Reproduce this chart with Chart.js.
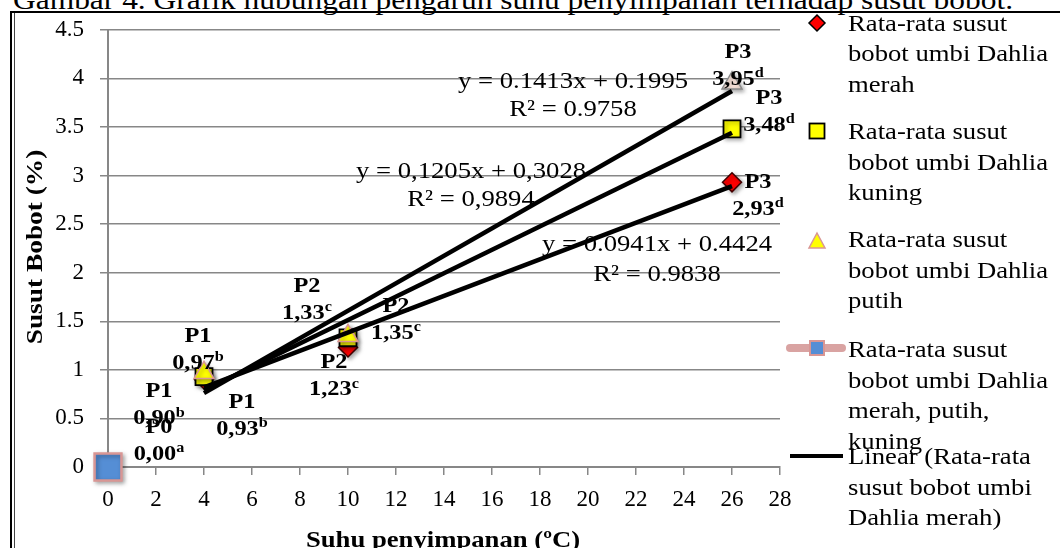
<!DOCTYPE html>
<html>
<head>
<meta charset="utf-8">
<script src="https://cdn.jsdelivr.net/npm/chart.js@4.4.1/dist/chart.umd.min.js"></script>
<style>
html,body{margin:0;padding:0;background:#fff;}
body{width:1060px;height:548px;overflow:hidden;position:relative;font-family:'Liberation Serif','Times New Roman',serif;color:#000;}
#wrap{position:absolute;left:0;top:0;width:1060px;height:548px;}
#title{position:absolute;left:13px;top:-14px;font-size:28px;line-height:28px;white-space:nowrap;transform-origin:0 0;}
.frame-top{position:absolute;left:10px;top:11px;width:1050px;height:0;border-top:2px solid #000;}
.frame-left{position:absolute;left:10px;top:11px;width:0;height:537px;border-left:2px solid #000;}
.frame-left2{position:absolute;left:14px;top:13px;width:0;height:535px;border-left:1px solid #444;}
.leg{position:absolute;left:848px;font-size:23px;line-height:30.5px;white-space:nowrap;transform:scaleX(1.16);transform-origin:0 0;}
.legm{position:absolute;overflow:visible;}
</style>
</head>
<body>
<div id="title">Gambar 4. Grafik hubungan pengaruh suhu penyimpanan terhadap susut bobot.</div>
<div class="frame-top"></div>
<div class="frame-left"></div>
<div class="frame-left2"></div>
<div id="wrap"><canvas id="c"></canvas></div>
<div id="legend"></div>
<script>
// ---------- data ----------
const suhu = [4, 10, 26];
const susutMerah = [0.90, 1.23, 2.93];
const susutKuning = [0.93, 1.33, 3.48];
const susutPutih = [0.97, 1.35, 3.95];
const suhuP0 = [0];
const susutP0 = [0.00];
const perlakuan = ['P1', 'P2', 'P3'];
const perlakuanP0 = ['P0'];
const notasiMerah = ['b', 'c', 'd'];
const notasiKuning = ['b', 'c', 'd'];
const notasiPutih = ['b', 'c', 'd'];
const notasiP0 = ['a'];
const trendX = [4, 26];
const trendMerah = [0.82, 2.89];
const trendKuning = [0.79, 3.44];
const trendPutih = [0.76, 3.87];
const persamaan = ['y = 0.1413x + 0.1995', 'y = 0,1205x + 0,3028', 'y = 0.0941x + 0.4424'];
const rKuadrat = ['R\u00b2 = 0.9758', 'R\u00b2 = 0,9894', 'R\u00b2 = 0.9838'];
const xTickValues = [0, 2, 4, 6, 8, 10, 12, 14, 16, 18, 20, 22, 24, 26, 28];
const yTickValues = [0, 0.5, 1, 1.5, 2, 2.5, 3, 3.5, 4, 4.5];
const legendNames = [
  'Rata-rata susut<br>bobot umbi Dahlia<br>merah',
  'Rata-rata susut<br>bobot umbi Dahlia<br>kuning',
  'Rata-rata susut<br>bobot umbi Dahlia<br>putih',
  'Rata-rata susut<br>bobot umbi Dahlia<br>merah, putih,<br>kuning',
  'Linear (Rata-rata<br>susut bobot umbi<br>Dahlia merah)'
];

// ---------- layout (pixels, not data) ----------
const labelOffsetMerah = [[-45, 26], [-14, 29], [26, 14]];
const labelOffsetKuning = [[38, 39], [-41, -38], [37, -17]];
const labelOffsetPutih = [[-6, -23], [48, -16], [6, -17]];
const labelOffsetP0 = [[51, -26]];
const eqPos = [[573, 82, 110], [471, 172, 200], [657, 245, 275]];
const FONT = "'Liberation Serif','Times New Roman',serif";
const SX = 1.16;

const pts = (xs, ys) => xs.map((x, i) => ({x: x, y: ys[i]}));

const datasets = [
  {label: 'trend putih', data: pts(trendX, trendPutih), showLine: true, borderColor: '#000', borderWidth: 4.5, pointRadius: 0, order: 0},
  {label: 'trend kuning', data: pts(trendX, trendKuning), showLine: true, borderColor: '#000', borderWidth: 4.5, pointRadius: 0, order: 0},
  {label: 'Linear (Rata-rata susut bobot umbi Dahlia merah)', data: pts(trendX, trendMerah), showLine: true, borderColor: '#000', borderWidth: 4.5, pointRadius: 0, order: 0},
  {label: 'Rata-rata susut bobot umbi Dahlia putih', data: pts(suhu, susutPutih), pointStyle: 'triangle', pointRadius: 11.5,
   backgroundColor: ['#ffff00', '#ffff00', '#f4dfd6'], borderColor: ['#d99694', '#d99694', '#8a8a8a'], borderWidth: 1.5, shadow: true, order: 1,
   lbl: {codes: perlakuan, notes: notasiPutih, off: labelOffsetPutih}},
  {label: 'Rata-rata susut bobot umbi Dahlia kuning', data: pts(suhu, susutKuning), pointStyle: 'rect', pointRadius: 12,
   backgroundColor: '#ffff00', borderColor: '#000', borderWidth: 1.8, shadow: true, order: 2,
   lbl: {codes: perlakuan, notes: notasiKuning, off: labelOffsetKuning}},
  {label: 'Rata-rata susut bobot umbi Dahlia merah', data: pts(suhu, susutMerah), pointStyle: 'rectRot', pointRadius: 9.5,
   backgroundColor: '#ff0000', borderColor: '#400000', borderWidth: 1.5, shadow: true, order: 3,
   lbl: {codes: perlakuan, notes: notasiMerah, off: labelOffsetMerah}},
  {label: 'Rata-rata susut bobot umbi Dahlia merah, putih, kuning', data: pts(suhuP0, susutP0), showLine: true, pointStyle: 'rect', pointRadius: 19,
   backgroundColor: '#558ed5', borderColor: '#d99694', pointBorderWidth: 2.5, borderWidth: 8, shadow: true, order: 4,
   lbl: {codes: perlakuanP0, notes: notasiP0, off: labelOffsetP0}}
];
datasets.forEach(d => { d.clip = false; });

function sText(ctx, text, x, y) {
  ctx.save();
  ctx.translate(x, y);
  ctx.scale(SX, 1);
  ctx.fillText(text, 0, 0);
  ctx.restore();
}

function drawLabel(ctx, cx, cy, code, val, sup) {
  ctx.fillStyle = '#000';
  ctx.textBaseline = 'middle';
  ctx.font = 'bold 21px ' + FONT;
  ctx.textAlign = 'center';
  sText(ctx, code, cx, cy - 13.5);
  ctx.textAlign = 'left';
  const w1 = ctx.measureText(val).width * SX;
  ctx.font = 'bold 14px ' + FONT;
  const w2 = ctx.measureText(sup).width * SX;
  const x0 = cx - (w1 + w2) / 2;
  ctx.font = 'bold 21px ' + FONT;
  sText(ctx, val, x0, cy + 13.5);
  ctx.font = 'bold 14px ' + FONT;
  sText(ctx, sup, x0 + w1, cy + 13.5 - 6);
}

const annot = {
  id: 'annot',
  beforeDatasetDraw(chart, args) {
    const ds = chart.data.datasets[args.index];
    if (ds.shadow) {
      const c = chart.ctx;
      c.shadowColor = 'rgba(0,0,0,0.35)'; c.shadowBlur = 4; c.shadowOffsetX = 2; c.shadowOffsetY = 2;
    }
  },
  afterDatasetDraw(chart) {
    const c = chart.ctx;
    c.shadowColor = 'rgba(0,0,0,0)'; c.shadowBlur = 0; c.shadowOffsetX = 0; c.shadowOffsetY = 0;
  },
  afterDraw(chart) {
    const ctx = chart.ctx;
    const xs = chart.scales.x, ys = chart.scales.y;
    ctx.save();
    chart.data.datasets.forEach(ds => {
      if (!ds.lbl) return;
      ds.data.forEach((p, i) => {
        const px = xs.getPixelForValue(p.x), py = ys.getPixelForValue(p.y);
        const o = ds.lbl.off[i];
        drawLabel(ctx, px + o[0], py + o[1], ds.lbl.codes[i], p.y.toFixed(2).replace('.', ','), ds.lbl.notes[i]);
      });
    });
    ctx.font = '23px ' + FONT;
    ctx.textAlign = 'center';
    ctx.textBaseline = 'middle';
    eqPos.forEach((e, i) => {
      sText(ctx, persamaan[i], e[0], e[1]);
      sText(ctx, rKuadrat[i], e[0], e[2]);
    });
    // axis titles
    ctx.font = 'bold 23px ' + FONT;
    ctx.textBaseline = 'alphabetic';
    sText(ctx, 'Suhu penyimpanan (\u00baC)', 443, 547);
    ctx.translate(42, 247);
    ctx.rotate(-Math.PI / 2);
    ctx.scale(1.19 / SX, 1);
    sText(ctx, 'Susut Bobot (%)', 0, 0);
    ctx.restore();
  }
};

const gridCol = '#878787';
new Chart(document.getElementById('c'), {
  type: 'scatter',
  data: {datasets: datasets},
  options: {
    responsive: true,
    maintainAspectRatio: false,
    animation: false,
    events: [],
    layout: {padding: {top: 27, right: 280, bottom: 0, left: 0}},
    plugins: {legend: {display: false}, tooltip: {enabled: false}},
    scales: {
      x: {
        type: 'linear', min: 0, max: 28,
        afterBuildTicks: s => { s.ticks = xTickValues.map(v => ({value: v})); },
        afterFit: s => { s.height = 81; },
        grid: {drawOnChartArea: false, drawTicks: true, tickLength: 8, color: gridCol, lineWidth: 1.5},
        border: {display: true, color: gridCol, width: 2},
        ticks: {font: {family: FONT, size: 23}, color: '#000', padding: 11, maxRotation: 0, autoSkip: false,
                callback: v => String(v)}
      },
      y: {
        type: 'linear', min: 0, max: 4.5,
        afterBuildTicks: s => { s.ticks = yTickValues.map(v => ({value: v})); },
        afterFit: s => { s.width = 108; },
        grid: {drawTicks: true, tickLength: 8, color: gridCol, lineWidth: 1.5},
        border: {display: true, color: gridCol, width: 2},
        ticks: {font: {family: FONT, size: 23}, color: '#000', padding: 16, autoSkip: false,
                callback: v => String(v)}
      }
    }
  },
  plugins: [annot]
});

// ---------- legend (HTML) ----------
const legTops = [8.5, 117, 225, 335, 442];
const leg = document.getElementById('legend');
const markers = [
  '<svg class="legm" style="left:808px;top:14px" width="18" height="18"><polygon points="9,1 17,9 9,17 1,9" fill="#ff0000" stroke="#000" stroke-width="1.5"/></svg>',
  '<svg class="legm" style="left:808px;top:122px" width="18" height="18"><rect x="1.5" y="1.5" width="15" height="15" fill="#ffff00" stroke="#000" stroke-width="1.8"/></svg>',
  '<svg class="legm" style="left:808px;top:231px" width="18" height="18"><polygon points="9,2 17,17 1,17" fill="#ffff00" stroke="#d99694" stroke-width="1.5"/></svg>',
  '<svg class="legm" style="left:784px;top:336px" width="64" height="24"><line x1="6" y1="12" x2="58" y2="12" stroke="#d9a3a2" stroke-width="8" stroke-linecap="round"/><rect x="26" y="5" width="14" height="14" fill="#558ed5" stroke="#d99694" stroke-width="2"/></svg>',
  '<svg class="legm" style="left:788px;top:448px" width="60" height="16"><line x1="2" y1="8" x2="55" y2="8" stroke="#000" stroke-width="4"/></svg>'
];
let html = '';
legendNames.forEach((n, i) => {
  html += markers[i] + '<div class="leg" style="top:' + legTops[i] + 'px">' + n + '</div>';
});
leg.innerHTML = html;

// fit title width
const t = document.getElementById('title');
const tw = t.getBoundingClientRect().width;
t.style.transform = 'scaleX(' + (1000 / tw) + ')';
</script>
</body>
</html>
